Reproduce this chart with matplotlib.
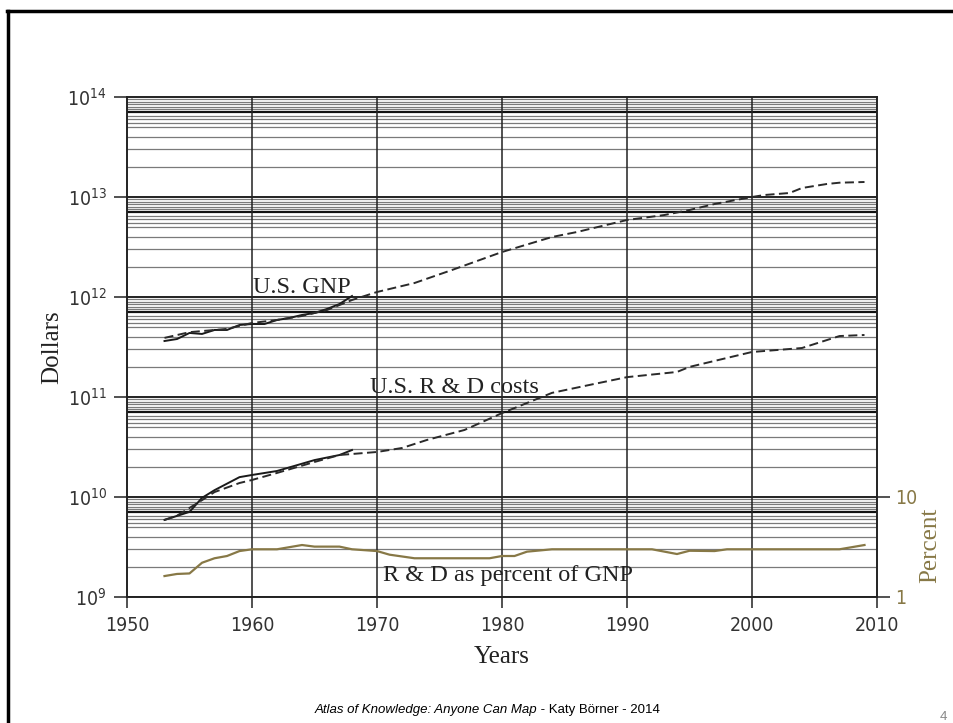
import matplotlib
matplotlib.use('Agg')
import matplotlib.pyplot as plt
from matplotlib.lines import Line2D
from matplotlib.ticker import NullLocator

plt.rcParams['font.family'] = ['DejaVu Sans']
plt.rcParams['font.stretch'] = 'condensed'
plt.rcParams['lines.scale_dashes'] = False

# data (dollars in billions, percent of GNP)
years_gnp = [1953, 1955, 1958, 1960, 1962, 1964, 1966, 1968, 1970, 1973, 1976, 1980, 1984,
             1986, 1988, 1990, 1993, 1995, 1997, 2000, 2001, 2003, 2004, 2006, 2007, 2009]
gnp_billions = [390, 445, 480, 550, 589, 646, 741, 933, 1122, 1380, 1862, 2818, 3981,
                4467, 5129, 5888, 6607, 7413, 8511, 10000, 10471, 10965, 12303, 13500, 13900, 14125]

years_gnp_early = [1953, 1954, 1955, 1956, 1957, 1958, 1959, 1960, 1961, 1962, 1963, 1964,
                   1965, 1966, 1967, 1968]
gnp_early = [363, 380, 437, 427, 468, 468, 525, 537, 537, 589, 617, 661, 692, 759, 851, 1023]

years_rd = [1953, 1954, 1956, 1957, 1959, 1960, 1962, 1965, 1967, 1970, 1972, 1974, 1977,
            1980, 1984, 1987, 1990, 1994, 1995, 2000, 2002, 2004, 2007, 2009]
rd_billions = [5.9, 6.5, 9.3, 11.2, 13.8, 14.8, 17.4, 22.4, 26.3, 28.2, 30.9, 37.2, 46.8,
               69, 110, 132, 158, 178, 200, 282, 295, 309, 407, 417]

years_rd_early = [1953, 1955, 1956, 1957, 1959, 1960, 1962, 1965, 1967, 1968]
rd_early = [5.9, 7.1, 9.8, 11.7, 15.8, 16.6, 18.2, 23.4, 26.3, 29.5]

years_pct = [1953, 1954, 1955, 1956, 1957, 1958, 1959, 1960, 1962, 1964, 1965, 1967, 1968,
             1970, 1971, 1973, 1979, 1980, 1981, 1982, 1984, 1992, 1994, 1995, 1997, 1998,
             2007, 2009]
pct = [1.62, 1.70, 1.72, 2.2, 2.44, 2.57, 2.88, 3.0, 3.0, 3.31, 3.19, 3.19, 3.0,
       2.88, 2.65, 2.44, 2.44, 2.57, 2.57, 2.84, 3.0, 3.0, 2.69, 2.9, 2.88, 3.0,
       3.0, 3.31]

x_ticks = [1950, 1960, 1970, 1980, 1990, 2000, 2010]
decades = [9, 10, 11, 12, 13, 14]
minor_mult = [2, 3, 4, 5, 5.5, 6, 6.5, 7.5, 8, 8.5, 9, 9.5]

olive = '#877846'
serif = ['Liberation Serif', 'DejaVu Serif']
B = 1e9

fig = plt.figure(figsize=(9.54, 7.23), dpi=100)
ax = fig.add_axes([127 / 954, 1 - 597 / 723, 750 / 954, 500 / 723])
ax.set_yscale('log')
ax.set_xlim(1950, 2010)
ax.set_ylim(1e9, 1e14)

# horizontal ruling
for d in decades[:-1]:
    for m in minor_mult:
        ax.axhline(m * 10 ** d, color='#7a7a7a', lw=0.9, zorder=1)
    ax.axhline(7 * 10 ** d, color='#111111', lw=1.6, zorder=1)
    ax.axhline(10 ** d, color='#111111', lw=1.3, zorder=1)
for x in x_ticks[1:-1]:
    ax.axvline(x, color='#222222', lw=1.1, zorder=1)

# series
ax.plot(years_gnp_early, [v * B for v in gnp_early], color='#1a1a1a', lw=1.4, zorder=3)
ax.plot(years_gnp, [v * B for v in gnp_billions], color='#2a2a2a', lw=1.4,
        dashes=(6.5, 3.2), zorder=3)
ax.plot(years_rd_early, [v * B for v in rd_early], color='#1a1a1a', lw=1.4, zorder=3)
ax.plot(years_rd, [v * B for v in rd_billions], color='#2a2a2a', lw=1.4,
        dashes=(6.5, 3.2), zorder=3)

ax.set_yticks([10 ** d for d in decades])
ax.set_yticklabels([r'$\mathregular{10^{%d}}$' % d for d in decades])
ax.yaxis.set_minor_locator(NullLocator())
ax.set_xticks(x_ticks)
ax.set_xticklabels([str(x) for x in x_ticks])
ax.tick_params(axis='y', direction='out', length=9.5, width=1.1, pad=5, labelsize=14,
               colors='#222222', labelcolor='#333333')
ax.tick_params(axis='x', direction='out', length=8, width=1.1, pad=6, labelsize=14,
               colors='#222222', labelcolor='#333333')
for s in ax.spines.values():
    s.set_color('#222222')
    s.set_linewidth(1.2)

# percent axis on the right
ax2 = ax.twinx()
ax2.set_yscale('log')
ax2.set_ylim(1, 1e5)
ax2.plot(years_pct, pct, color=olive, lw=1.6, zorder=3)
ax2.set_yticks([1, 10])
ax2.set_yticklabels(['1', '10'])
ax2.yaxis.set_minor_locator(NullLocator())
ax2.tick_params(axis='y', direction='out', length=9, width=1.1, pad=4, labelsize=14,
                colors='#222222', labelcolor=olive)
for s in ax2.spines.values():
    s.set_color('#222222')
    s.set_linewidth(1.2)

# labels on the chart
ax.text(1960.1, 1.09e12, 'U.S. GNP', family=serif, fontsize=17.5, color='#222222',
        va='baseline', zorder=4, stretch='normal')
ax.text(1969.4, 1.1e11, 'U.S. R & D costs', family=serif, fontsize=17.5, color='#222222',
        va='baseline', zorder=4, stretch='normal')
ax.text(1970.5, 1.46e9, 'R & D as percent of GNP', family=serif, fontsize=17.5,
        color='#222222', va='baseline', zorder=4, stretch='normal')

fig.text(52 / 954, 1 - 347 / 723, 'Dollars', family=serif, fontsize=18, rotation=90,
         ha='center', va='center', color='#222222', stretch='normal')
fig.text(502 / 954, 1 - 657 / 723, 'Years', family=serif, fontsize=18,
         ha='center', va='center', color='#222222', stretch='normal')
fig.text(930 / 954, 1 - 545 / 723, 'Percent', family=serif, fontsize=18, rotation=90,
         ha='center', va='center', color=olive, stretch='normal')

# slide footer
sans = ['Liberation Sans', 'DejaVu Sans']
fig.text(537 / 954, 1 - 710 / 723, 'Atlas of Knowledge: Anyone Can Map',
         family=sans, style='italic', fontsize=9.5, ha='right', va='center', stretch='normal')
fig.text(537 / 954, 1 - 710 / 723, ' - Katy Börner - 2014',
         family=sans, fontsize=9.5, ha='left', va='center', stretch='normal')
fig.text(943 / 954, 1 - 717 / 723, '4', family=sans, fontsize=9.5, color='#888888',
         ha='center', va='center', stretch='normal')

# slide border (top and left edges)
fig.add_artist(Line2D([7 / 954, 1.01], [1 - 11 / 723] * 2, transform=fig.transFigure,
                      color='black', lw=2.5))
fig.add_artist(Line2D([8 / 954] * 2, [-0.01, 1 - 11 / 723], transform=fig.transFigure,
                      color='black', lw=2.5))

fig.savefig('out.png', dpi=100)
